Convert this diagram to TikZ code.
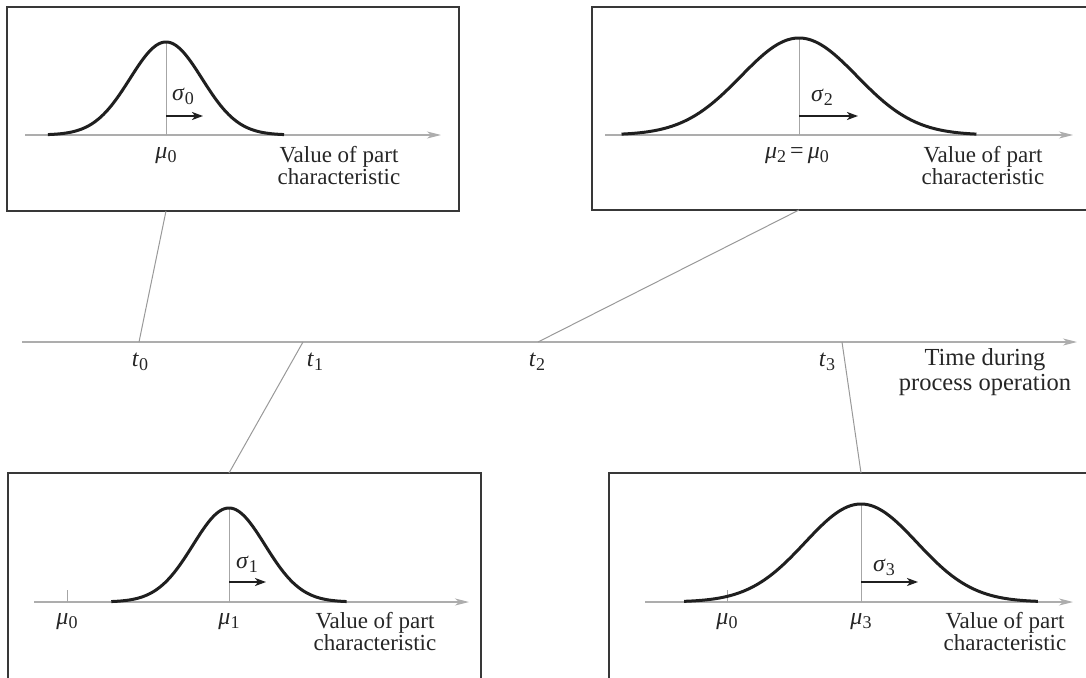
\documentclass[tikz,border=0pt]{standalone}
\usepackage{fontspec}
\setmainfont{Liberation Serif}
\usetikzlibrary{arrows.meta}
\newcommand\sbs[1]{\raisebox{-0.35ex}{\fontsize{18}{18}\selectfont #1}}
\newcommand\gmu{\textit{μ}}
\newcommand\gsig{\textit{σ}}
\newcommand\tvar{\textit{t}}
\begin{document}
\begin{tikzpicture}[x=1pt,y=-1pt,
  box/.style={draw=black!78,line width=1.4pt,fill=none,inner sep=0pt,outer sep=0pt,anchor=north west},
  axis/.style={draw=black!32,line width=1.2pt,-{Stealth[length=14pt,width=7pt,inset=4pt]}},
  conn/.style={draw=black!40,line width=1pt},
  meanline/.style={draw=black!35,line width=1pt},
  curve/.style={draw=black!88,line width=3pt},
  sigarrow/.style={draw=black!88,line width=1.8pt,-{Stealth[length=11pt,width=8pt,inset=3pt]}},
  lbl/.style={font=\fontsize{24}{22}\selectfont,inner sep=0pt,text=black!85},
  txt/.style={font=\fontsize{23}{22}\selectfont,inner sep=0pt,align=center,text=black!85},
  ttxt/.style={font=\fontsize{24.5}{25}\selectfont,inner sep=0pt,align=center,text=black!85}]
\useasboundingbox (0,0) rectangle (1086,677);
\begin{scope}
\clip (0,0) rectangle (1086,677);
% boxes
\node[box,minimum width=452pt,minimum height=204pt] (box0) at (7,7) {};
\node[box,minimum width=510pt,minimum height=203pt] (box2) at (592,7) {};
\node[box,minimum width=473pt,minimum height=230pt] (box1) at (8,473) {};
\node[box,minimum width=500pt,minimum height=230pt] (box3) at (609,473) {};

% peaks / means
\coordinate (p0) at (166,42);  \coordinate (a0) at (166,135);
\coordinate (p2) at (799,38);  \coordinate (a2) at (799,135);
\coordinate (p1) at (229,508); \coordinate (a1) at (229,602);
\coordinate (p3) at (861,504); \coordinate (a3) at (861,602);

% ---------- box 0 ----------
\coordinate (x0s) at (25,135); \coordinate (x0e) at (441,135);
\draw[axis] (x0s) -- (x0e);
\draw[meanline] (a0) -- (p0);
\draw[curve] plot[domain=-3.28:3.28,samples=120,smooth] ({166+36*\x},{135-93*exp(-0.5*\x*\x)});
\coordinate (s0) at (203,116);
\draw[sigarrow] (a0 |- s0) -- (s0);
\node[lbl] (sg0) at (183,96) {\gsig\sbs{0}};
\node[lbl] (mu0) at (166,156) {\gmu\sbs{0}};
\node[txt] (v0) at (339,166) {Value of part\\characteristic};

% ---------- box 2 ----------
\coordinate (x2s) at (605,135); \coordinate (x2e) at (1073,135);
\draw[axis] (x2s) -- (x2e);
\draw[meanline] (a2) -- (p2);
\draw[curve] plot[domain=-3.06:3.06,samples=120,smooth] ({799+58*\x},{135-97*exp(-0.5*\x*\x)});
\coordinate (s2) at (858,116);
\draw[sigarrow] (a2 |- s2) -- (s2);
\node[lbl] (sg2) at (822,97) {\gsig\sbs{2}};
\node[lbl] (mu2) at (797,156) {\gmu\sbs{2}\,=\,\gmu\sbs{0}};
\node[txt] (v2) at (983,166) {Value of part\\characteristic};

% ---------- box 1 ----------
\coordinate (x1s) at (34,602); \coordinate (x1e) at (469,602);
\draw[axis] (x1s) -- (x1e);
\draw[meanline] (a1) -- (p1);
\coordinate (k1) at (67,602); \coordinate (k1t) at (67,590);
\draw[meanline] (k1) -- (k1t);
\draw[curve] plot[domain=-3.27:3.27,samples=120,smooth] ({229+36*\x},{602-94*exp(-0.5*\x*\x)});
\coordinate (s1) at (266,582);
\draw[sigarrow] (a1 |- s1) -- (s1);
\node[lbl] (sg1) at (247,564) {\gsig\sbs{1}};
\node[lbl] (mu1a) at (67,622) {\gmu\sbs{0}};
\node[lbl] (mu1) at (229,622) {\gmu\sbs{1}};
\node[txt] (v1) at (375,632) {Value of part\\characteristic};

% ---------- box 3 ----------
\coordinate (x3s) at (645,602); \coordinate (x3e) at (1073,602);
\draw[axis] (x3s) -- (x3e);
\draw[meanline] (a3) -- (p3);
\coordinate (k3) at (727,602); \coordinate (k3t) at (727,590);
\draw[meanline] (k3) -- (k3t);
\draw[curve] plot[domain=-3.16:3.16,samples=120,smooth] ({861+56*\x},{602-98*exp(-0.5*\x*\x)});
\coordinate (s3) at (918,582);
\draw[sigarrow] (a3 |- s3) -- (s3);
\node[lbl] (sg3) at (884,567) {\gsig\sbs{3}};
\node[lbl] (mu3a) at (727,622) {\gmu\sbs{0}};
\node[lbl] (mu3) at (861,622) {\gmu\sbs{3}};
\node[txt] (v3) at (1005,632) {Value of part\\characteristic};

% ---------- timeline ----------
\coordinate (ts) at (22,342); \coordinate (te) at (1077,342);
\draw[axis] (ts) -- (te);
\coordinate (t0) at (139,342);
\coordinate (t1) at (303,342);
\coordinate (t2) at (538,342);
\coordinate (t3) at (842,342);
\node[lbl] (lt0) at (140,362) {\tvar\sbs{0}};
\node[lbl] (lt1) at (315,362) {\tvar\sbs{1}};
\node[lbl] (lt2) at (537,362) {\tvar\sbs{2}};
\node[lbl] (lt3) at (827,362) {\tvar\sbs{3}};
\node[ttxt] (tl) at (985,372) {Time during\\process operation};

% connectors
\draw[conn] (t0) -- (box0.south -| p0);
\draw[conn] (t2) -- (box2.south -| p2);
\draw[conn] (t1) -- (box1.north -| p1);
\draw[conn] (t3) -- (box3.north -| p3);
\end{scope}
\end{tikzpicture}
\end{document}
